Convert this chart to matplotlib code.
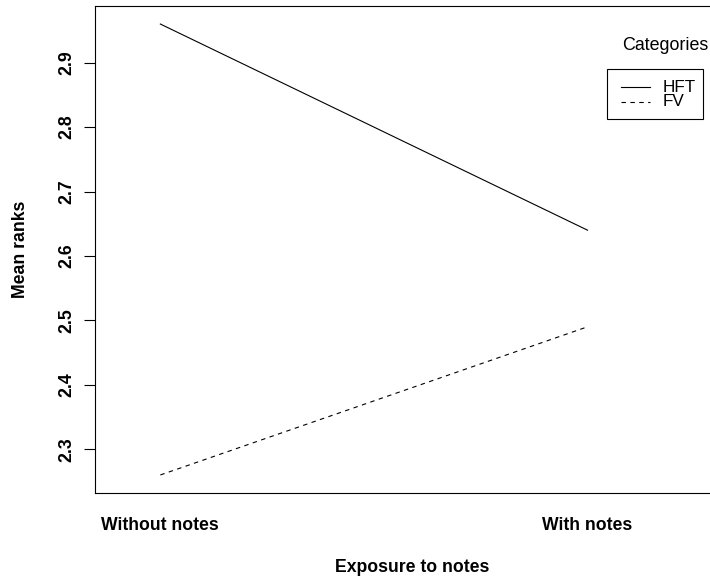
import matplotlib
matplotlib.use('Agg')
from matplotlib import pyplot as plt
from matplotlib.patches import Rectangle
from matplotlib.lines import Line2D

plt.rcParams['font.family'] = ['Liberation Sans', 'DejaVu Sans']

exposure = ['Without notes', 'With notes']
categories = ['HFT', 'FV']
hft = [2.96, 2.64]
fv = [2.26, 2.49]
styles = ['-', (0, (4, 4))]
y_ticks = [2.3, 2.4, 2.5, 2.6, 2.7, 2.8, 2.9]

W, H = 710, 578
fig = plt.figure(figsize=(W / 100, H / 100), dpi=100)
# plot box: left 95px, top 6px, bottom 493px, right runs off the figure
x0, x1 = 95, 972
top, bot = 6, 493
ax = fig.add_axes([x0 / W, 1 - bot / H, (x1 - x0) / W, (bot - top) / H])

xs = list(range(1, len(exposure) + 1))
for vals, ls in zip([hft, fv], styles):
    ax.plot(xs, vals, color='black', lw=0.8, linestyle=ls)

ax.set_xlim(0.847, 2.9)
ax.set_ylim(2.232, 2.988)
ax.set_xticks(xs)
ax.set_xticklabels(exposure, fontsize=12.7, fontweight='bold')
ax.tick_params(axis='x', length=0, pad=17)
ax.set_yticks(y_ticks)
ax.set_yticklabels([str(v) for v in y_ticks], fontsize=12.7, fontweight='bold',
                   rotation=90, va='center')
ax.tick_params(axis='y', length=8, width=0.8, pad=6)
ax.set_xlabel('Exposure to notes', fontsize=12.7, fontweight='bold')
ax.xaxis.set_label_coords((412 - x0) / (x1 - x0), -(568 - bot) / (bot - top))
ax.xaxis.label.set_va('center')
ax.set_ylabel('Mean ranks', fontsize=12.7, fontweight='bold')
ax.yaxis.set_label_coords(-(x0 - 21) / (x1 - x0), 0.5)
ax.yaxis.label.set_va('center')
for s in ax.spines.values():
    s.set_linewidth(0.8)

# legend (title above the box, as in R's interaction.plot)
px = lambda x, y: (x / W, 1 - y / H)
fig.text(*px(622, 45), 'Categories', fontsize=12.9, va='center', ha='left')
lx, ly = px(607, 119)
fig.add_artist(Rectangle((lx, ly), 96 / W, 50 / H, transform=fig.transFigure,
                         fill=False, lw=0.8, color='black'))
for i, (name, ls) in enumerate(zip(categories, styles)):
    y = 87 + 15 * i
    a = px(621, y)
    b = px(650, y)
    fig.add_artist(Line2D([a[0], b[0]], [a[1], b[1]], transform=fig.transFigure,
                          color='black', lw=0.8, linestyle=ls))
    fig.text(*px(663, y), name, fontsize=12.3, va='center', ha='left')

fig.savefig('out.png', dpi=100)
